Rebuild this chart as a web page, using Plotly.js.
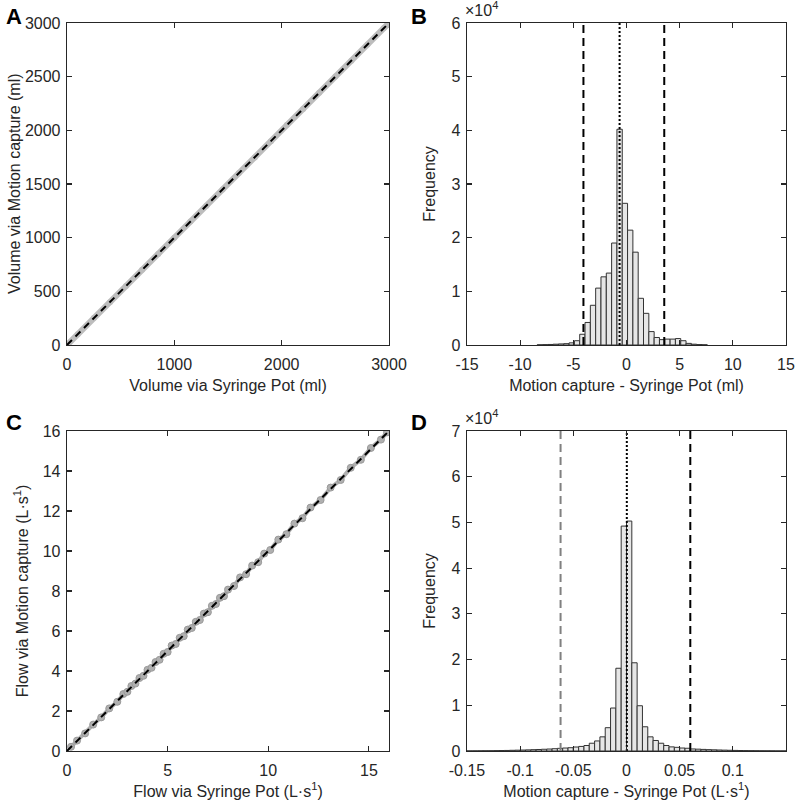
<!DOCTYPE html>
<html>
<head>
<meta charset="utf-8">
<script src="https://cdn.plot.ly/plotly-3.0.1.min.js"></script>
<style>html,body{margin:0;padding:0;background:#fff;}#chart{width:800px;height:810px;}</style>
</head>
<body>
<div id="chart"></div>
<script>
// Panel A: volume
const aSyringe = [0, 100, 250, 400, 550, 700, 850, 1000, 1150, 1300, 1450, 1600, 1750, 1900, 2050, 2200, 2350, 2500, 2650, 2800, 2950, 3000];
const aMocap   = [-1, 99, 251, 398, 549, 701, 848, 999, 1151, 1298, 1449, 1601, 1748, 1899, 2051, 2198, 2349, 2501, 2648, 2799, 2951, 3001];
const aIdentity = [0, 3000];

// Panel B: volume difference histogram
const bCenters = [-8.15, -7.65, -7.15, -6.65, -6.15, -5.65, -5.15, -4.65, -4.15, -3.65, -3.15, -2.65, -2.15, -1.65, -1.15, -0.65, -0.15, 0.35, 0.85, 1.35, 1.85, 2.35, 2.85, 3.35, 3.85, 4.35, 4.85, 5.35, 5.85, 6.35, 6.85, 7.35];
const bCounts  = [40, 70, 100, 150, 200, 250, 400, 800, 2000, 4200, 7400, 10600, 12700, 13400, 19000, 40200, 26400, 21400, 17300, 8700, 5900, 2500, 1400, 1000, 1100, 1100, 1200, 800, 300, 150, 80, 40];
const bLimits = [-4.05, 3.55];
const bMean = [-0.65];

// Panel C: flow
const cSyringe = [0.2, 0.5, 0.9, 1.3, 1.7, 2.1, 2.5, 2.8, 3.0, 3.2, 3.4, 3.6, 3.8, 4.0, 4.2, 4.4, 4.6, 4.8, 5.0, 5.2, 5.4, 5.6, 5.8, 6.0, 6.2, 6.4, 6.6, 6.8, 7.0, 7.2, 7.4, 7.6, 7.8, 8.0, 8.3, 8.6, 8.9, 9.2, 9.5, 9.8, 10.1, 10.5, 10.9, 11.3, 11.7, 12.1, 12.6, 13.1, 13.6, 14.1, 14.6, 15.1, 15.6, 15.9];
const cMocap   = [0.21, 0.52, 0.88, 1.32, 1.68, 2.13, 2.46, 2.85, 2.96, 3.25, 3.37, 3.65, 3.76, 4.06, 4.16, 4.45, 4.56, 4.86, 4.95, 5.27, 5.35, 5.66, 5.74, 6.07, 6.15, 6.46, 6.55, 6.87, 6.94, 7.26, 7.35, 7.66, 7.74, 8.07, 8.25, 8.68, 8.84, 9.27, 9.44, 9.87, 10.05, 10.57, 10.84, 11.37, 11.64, 12.17, 12.55, 13.17, 13.55, 14.16, 14.56, 15.15, 15.57, 15.93];
const cIdentity = [0, 16];

// Panel D: flow difference histogram
const dCenters = [-0.1475, -0.1425, -0.1375, -0.1325, -0.1275, -0.1225, -0.1175, -0.1125, -0.1075, -0.1025, -0.0975, -0.0925, -0.0875, -0.0825, -0.0775, -0.0725, -0.0675, -0.0625, -0.0575, -0.0525, -0.0475, -0.0425, -0.0375, -0.0325, -0.0275, -0.0225, -0.0175, -0.0125, -0.0075, -0.0025, 0.0025, 0.0075, 0.0125, 0.0175, 0.0225, 0.0275, 0.0325, 0.0375, 0.0425, 0.0475, 0.0525, 0.0575, 0.0625, 0.0675, 0.0725, 0.0775, 0.0825, 0.0875, 0.0925, 0.0975, 0.1025, 0.1075, 0.1125, 0.1175, 0.1225, 0.1275, 0.1325, 0.1375, 0.1425, 0.1475];
const dCounts  = [20, 30, 40, 50, 60, 80, 100, 120, 150, 180, 210, 250, 290, 330, 380, 430, 500, 580, 650, 720, 870, 1000, 1200, 1700, 2200, 3100, 5100, 9400, 18100, 49200, 50300, 19300, 9900, 5300, 3100, 2300, 1700, 1200, 900, 800, 650, 600, 450, 400, 350, 300, 260, 220, 190, 160, 130, 110, 90, 70, 60, 50, 40, 30, 20, 15];
const dLimitLow = [-0.062];
const dLimitHigh = [0.060];
const dMean = [0.0003];

const FONT = 'Liberation Sans, Arial, sans-serif';
const AX = '#262626';
const FS = 16;

function axis(extra) {
  return Object.assign({
    showline: true, linecolor: AX, linewidth: 1.3, mirror: 'ticks',
    ticks: 'inside', ticklen: 5, tickwidth: 1.2, tickcolor: AX,
    showgrid: false, zeroline: false, fixedrange: true,
    tickfont: {family: FONT, size: FS, color: AX}
  }, extra);
}
function xax(extra) { return axis(Object.assign({ticklabelstandoff: 4}, extra)); }
function yax(extra) { return axis(Object.assign({ticklabelstandoff: 2}, extra)); }
function ttl(t, s) { return {text: t, font: {family: FONT, size: FS, color: AX}, standoff: s}; }

const barStyle = {color: '#e6e6e6', line: {color: '#333333', width: 1}};

const traces = [
  {x: aSyringe, y: aMocap, xaxis: 'x', yaxis: 'y', mode: 'lines+markers', line: {color: '#bdbdbd', width: 6}, marker: {color: '#bdbdbd', size: 6}, hoverinfo: 'skip'},
  {x: aIdentity, y: aIdentity, xaxis: 'x', yaxis: 'y', mode: 'lines', line: {color: '#000', width: 2, dash: '7px,5px'}, hoverinfo: 'skip'},

  {x: bCenters, y: bCounts, xaxis: 'x2', yaxis: 'y2', type: 'bar', width: 0.5, marker: barStyle, hoverinfo: 'skip'},
  {x: [bLimits[0], bLimits[0]], y: [0, 60000], xaxis: 'x2', yaxis: 'y2', mode: 'lines', line: {color: '#000', width: 2, dash: '8px,5px'}, hoverinfo: 'skip'},
  {x: [bLimits[1], bLimits[1]], y: [0, 60000], xaxis: 'x2', yaxis: 'y2', mode: 'lines', line: {color: '#000', width: 2, dash: '8px,5px'}, hoverinfo: 'skip'},
  {x: [bMean[0], bMean[0]], y: [0, 60000], xaxis: 'x2', yaxis: 'y2', mode: 'lines', line: {color: '#000', width: 2, dash: '2px,2px'}, hoverinfo: 'skip'},

  {x: cSyringe, y: cMocap, xaxis: 'x3', yaxis: 'y3', mode: 'lines+markers', line: {color: '#b0b0b0', width: 4}, marker: {color: '#b0b0b0', size: 7, line: {color: '#9a9a9a', width: 1}}, hoverinfo: 'skip'},
  {x: cIdentity, y: cIdentity, xaxis: 'x3', yaxis: 'y3', mode: 'lines', line: {color: '#000', width: 2, dash: '7px,5px'}, hoverinfo: 'skip'},

  {x: dCenters, y: dCounts, xaxis: 'x4', yaxis: 'y4', type: 'bar', width: 0.005, marker: barStyle, hoverinfo: 'skip'},
  {x: [dLimitLow[0], dLimitLow[0]], y: [0, 70000], xaxis: 'x4', yaxis: 'y4', mode: 'lines', line: {color: '#808080', width: 2, dash: '8px,5px'}, hoverinfo: 'skip'},
  {x: [dLimitHigh[0], dLimitHigh[0]], y: [0, 70000], xaxis: 'x4', yaxis: 'y4', mode: 'lines', line: {color: '#000', width: 2, dash: '8px,5px'}, hoverinfo: 'skip'},
  {x: [dMean[0], dMean[0]], y: [0, 70000], xaxis: 'x4', yaxis: 'y4', mode: 'lines', line: {color: '#000', width: 2, dash: '2px,2px'}, hoverinfo: 'skip'}
];

const xA = [67/800, 389/800], xB = [467/800, 786/800];
const yTop = [1 - 345/810, 1 - 23/810], yBot = [1 - 751/810, 1 - 431/810];

const layout = {
  width: 800, height: 810,
  margin: {l: 0, r: 0, t: 0, b: 0},
  paper_bgcolor: '#fff', plot_bgcolor: '#fff',
  showlegend: false, bargap: 0,
  font: {family: FONT, color: AX},
  xaxis: xax({domain: xA, anchor: 'y', range: [0, 3000], tickvals: [0, 1000, 2000, 3000], title: ttl('Volume via Syringe Pot (ml)', 8)}),
  yaxis: yax({domain: yTop, anchor: 'x', range: [0, 3000], tickvals: [0, 500, 1000, 1500, 2000, 2500, 3000]}),
  xaxis2: xax({domain: xB, anchor: 'y2', range: [-15, 15], tickvals: [-15, -10, -5, 0, 5, 10, 15], ticktext: ['-15', '-10', '-5', '0', '5', '10', '15'], title: ttl('Motion capture - Syringe Pot (ml)', 8)}),
  yaxis2: yax({domain: yTop, anchor: 'x2', range: [0, 60000], tickvals: [0, 10000, 20000, 30000, 40000, 50000, 60000], ticktext: ['0', '1', '2', '3', '4', '5', '6'], title: ttl('Frequency', 12)}),
  xaxis3: xax({domain: xA, anchor: 'y3', range: [0, 16], tickvals: [0, 5, 10, 15], title: ttl('Flow via Syringe Pot (L·s<sup>1</sup>)', 8)}),
  yaxis3: yax({domain: yBot, anchor: 'x3', range: [0, 16], tickvals: [0, 2, 4, 6, 8, 10, 12, 14, 16], title: ttl('Flow via Motion capture (L·s<sup>1</sup>)', 10)}),
  xaxis4: xax({domain: xB, anchor: 'y4', range: [-0.15, 0.15], tickvals: [-0.15, -0.1, -0.05, 0, 0.05, 0.1], ticktext: ['-0.15', '-0.1', '-0.05', '0', '0.05', '0.1'], title: ttl('Motion capture - Syringe Pot (L·s<sup>1</sup>)', 8)}),
  yaxis4: yax({domain: yBot, anchor: 'x4', range: [0, 70000], tickvals: [0, 10000, 20000, 30000, 40000, 50000, 60000, 70000], ticktext: ['0', '1', '2', '3', '4', '5', '6', '7'], title: ttl('Frequency', 12)}),
  annotations: [
    {text: 'Volume via Motion capture (ml)', textangle: -90, xref: 'paper', yref: 'paper', x: 14/800, y: 1 - 184/810, xanchor: 'center', yanchor: 'middle', showarrow: false, font: {family: FONT, size: FS, color: AX}},
    {text: '<b>A</b>', xref: 'paper', yref: 'paper', x: 4/800, y: 1 - 2/810, xanchor: 'left', yanchor: 'top', showarrow: false, font: {family: FONT, size: 22, color: '#000'}},
    {text: '<b>B</b>', xref: 'paper', yref: 'paper', x: 409/800, y: 1 - 2/810, xanchor: 'left', yanchor: 'top', showarrow: false, font: {family: FONT, size: 22, color: '#000'}},
    {text: '<b>C</b>', xref: 'paper', yref: 'paper', x: 4/800, y: 1 - 408/810, xanchor: 'left', yanchor: 'top', showarrow: false, font: {family: FONT, size: 22, color: '#000'}},
    {text: '<b>D</b>', xref: 'paper', yref: 'paper', x: 409/800, y: 1 - 408/810, xanchor: 'left', yanchor: 'top', showarrow: false, font: {family: FONT, size: 22, color: '#000'}},
    {text: '×10<sup>4</sup>', xref: 'paper', yref: 'paper', x: 463/800, y: 1 - 21/810, xanchor: 'left', yanchor: 'bottom', showarrow: false, font: {family: FONT, size: FS, color: AX}},
    {text: '×10<sup>4</sup>', xref: 'paper', yref: 'paper', x: 463/800, y: 1 - 429/810, xanchor: 'left', yanchor: 'bottom', showarrow: false, font: {family: FONT, size: FS, color: AX}}
  ]
};

Plotly.newPlot('chart', traces, layout, {staticPlot: true, displayModeBar: false});
</script>
</body>
</html>
